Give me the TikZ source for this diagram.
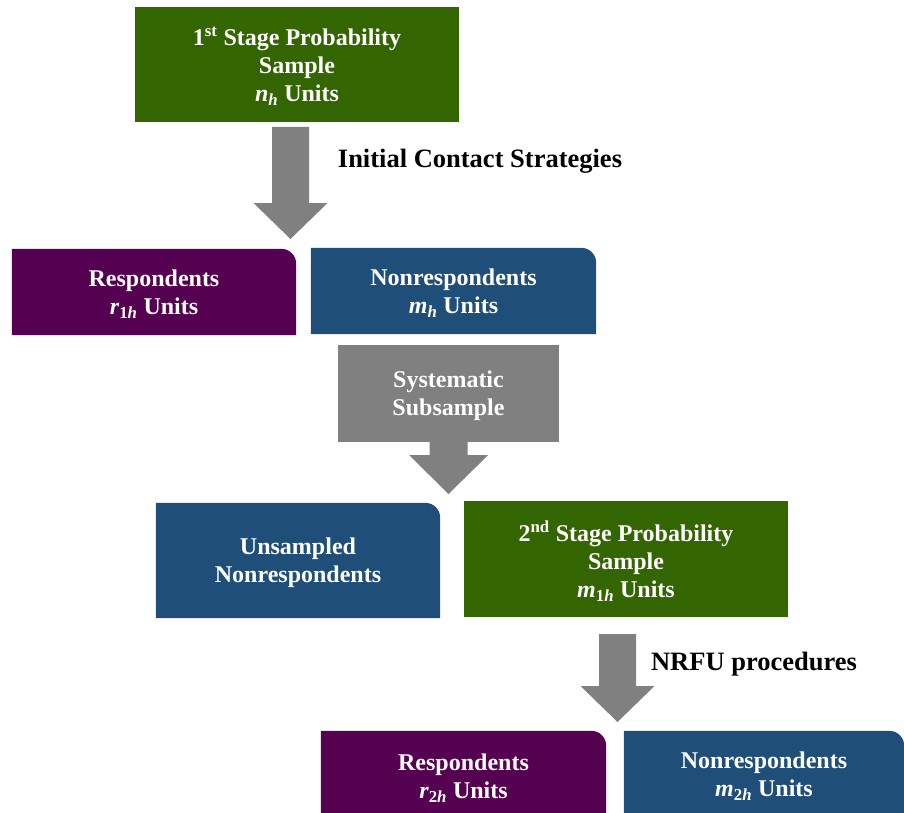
\documentclass[tikz,border=0pt]{standalone}
\usepackage{fontspec}
\setmainfont{Liberation Serif}
\definecolor{boxgreen}{RGB}{51,102,0}
\definecolor{boxpurple}{RGB}{85,0,80}
\definecolor{boxblue}{RGB}{31,78,121}
\definecolor{arrowgray}{RGB}{128,128,128}
\tikzset{
  shapebox/.style={rectangle, inner sep=0pt},
  boxtext/.style={text=white, font=\fontsize{24}{28}\selectfont\bfseries, align=center, inner sep=0pt, yshift=-2pt},
  lbl/.style={text=black, font=\fontsize{26.5}{30}\selectfont\bfseries, inner sep=0pt, yshift=-2pt},
  arr/.style={fill=arrowgray},
}
\newcommand{\roundbox}[2]{% #1 node name, #2 colour
  \fill[#2] (#1.south west) -- (#1.north west) -- ([xshift=-15pt]#1.north east)
    .. controls ([xshift=-6.7pt]#1.north east) and ([yshift=-6.7pt]#1.north east) ..
    ([yshift=-15pt]#1.north east) -- (#1.south east) -- cycle;}
\begin{document}
\begin{tikzpicture}[x=1pt,y=-1pt]
\useasboundingbox (0,0) rectangle (904,813);
\clip (0,0) rectangle (904,813);
% top box
\node[shapebox, fill=boxgreen, minimum width=324pt, minimum height=115pt] (top) at (297,64.5) {};
\node[boxtext] at (top.center)
  {1\textsuperscript{st} Stage Probability\\Sample\\\textit{n}\textsubscript{\textit{h}} Units};
% first split
\node[shapebox, minimum width=284pt, minimum height=86pt] (resp1) at (154,292) {};
\node[shapebox, minimum width=285pt, minimum height=86pt] (nonr1) at (453.5,291) {};
\roundbox{resp1}{boxpurple}
\roundbox{nonr1}{boxblue}
\node[boxtext] at (resp1.center) {Respondents\\\textit{r}\textsubscript{1\textit{h}} Units};
\node[boxtext] at (nonr1.center) {Nonrespondents\\\textit{m}\textsubscript{\textit{h}} Units};
% arrow 1
\coordinate (a1s) at (290.5,127);
\coordinate (a1t) at (290.5,239);
\fill[arr] (a1s) ++(-18.5,0) -- ++(37,0) -- ++(0,76) -- ++(18.5,0) -- (a1t) -- ++(-37,-36) -- ++(18.5,0) -- cycle;
\node[lbl] (l1) at (480,159) {Initial Contact Strategies};
% systematic subsample
\node[shapebox, fill=arrowgray, minimum width=221pt, minimum height=97pt] (sys) at (448.5,393.5) {};
\node[boxtext] at (sys.center) {Systematic\\Subsample};
\coordinate (a2t) at (448.5,494);
\fill[arr] ([yshift=1pt]sys.south) ++(-19,0) -- ++(38,0) -- ++(0,14) -- ++(20.5,0) -- (a2t) -- ++(-39.5,-39) -- ++(20.5,0) -- cycle;
% second split
\node[shapebox, minimum width=284pt, minimum height=115pt] (unsam) at (298,560.5) {};
\roundbox{unsam}{boxblue}
\node[boxtext] at (unsam.center) {Unsampled\\Nonrespondents};
\node[shapebox, fill=boxgreen, minimum width=324pt, minimum height=116pt] (stage2) at (626,559) {};
\node[boxtext] at (stage2.center)
  {2\textsuperscript{nd} Stage Probability\\Sample\\\textit{m}\textsubscript{1\textit{h}} Units};
% arrow 3
\coordinate (a3s) at (617.5,634);
\coordinate (a3t) at (617.5,722);
\fill[arr] (a3s) ++(-18.5,0) -- ++(37,0) -- ++(0,52) -- ++(18.5,0) -- (a3t) -- ++(-37,-36) -- ++(18.5,0) -- cycle;
\node[lbl] (l3) at (754,662) {NRFU procedures};
% bottom split
\node[shapebox, minimum width=285pt, minimum height=90pt] (resp2) at (463.5,776) {};
\node[shapebox, minimum width=280pt, minimum height=87pt] (nonr2) at (764,774.5) {};
\roundbox{resp2}{boxpurple}
\roundbox{nonr2}{boxblue}
\node[boxtext] at (resp2.center) {Respondents\\\textit{r}\textsubscript{2\textit{h}} Units};
\node[boxtext] at (nonr2.center) {Nonrespondents\\\textit{m}\textsubscript{2\textit{h}} Units};
\end{tikzpicture}
\end{document}
